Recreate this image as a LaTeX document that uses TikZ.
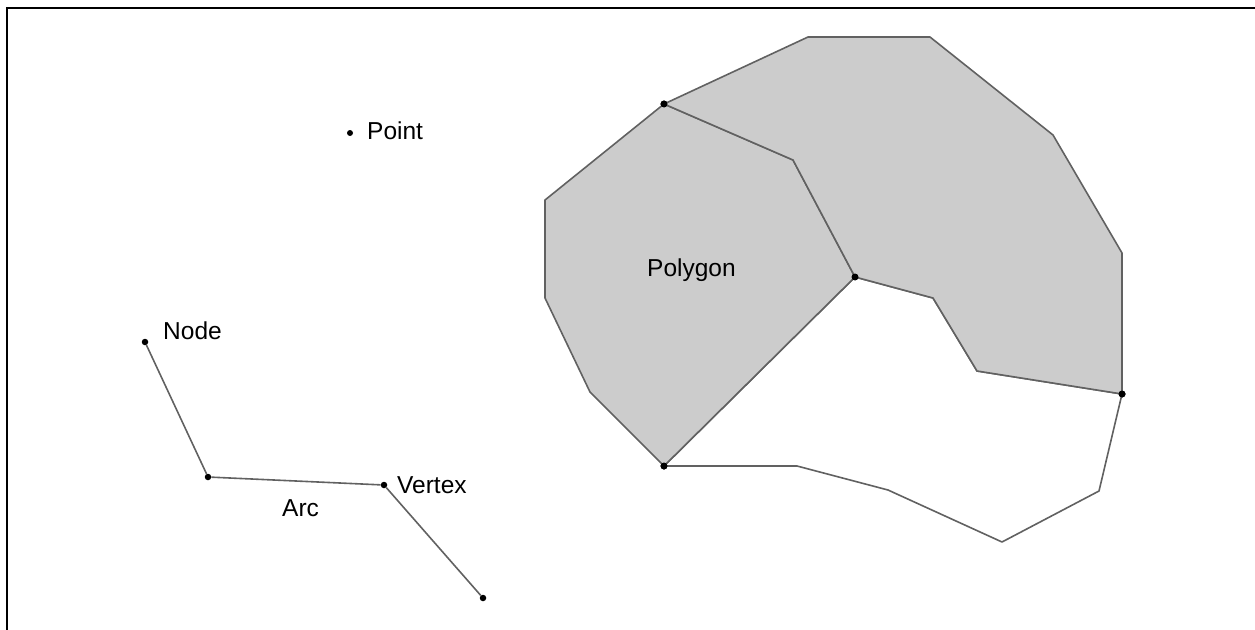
\documentclass[tikz,border=0pt]{standalone}
\usepackage{fontspec}
\setmainfont{Liberation Sans}
\begin{document}
\begin{tikzpicture}[x=1pt,y=-1pt,
  edge/.style={draw=black!62, line width=1.6pt, line join=round},
  region/.style={edge, fill=black!20},
  hole/.style={edge, fill=white},
  dot/.style={circle, fill=black, inner sep=0pt, minimum size=7pt},
  lbl/.style={anchor=base west, inner sep=0pt, font=\fontsize{24.5}{28}\selectfont},
  frame/.style={draw=black, line width=2.5pt}]
\useasboundingbox (0,0) rectangle (1255,629);
% frame (top and left edges only)
\coordinate (fTL) at (7,8);
\coordinate (fTR) at (1256,8);
\coordinate (fBL) at (7,630);
\draw[frame] (fTR) -- (fTL) -- (fBL);

% polygon vertices
\coordinate (a1) at (545,200);
\coordinate (a2) at (545,298);
\coordinate (a3) at (590,392);
\coordinate (m1) at (793,160);
\coordinate (b1) at (808,37);
\coordinate (b2) at (930,37);
\coordinate (b3) at (1053,135);
\coordinate (b4) at (1122,253);
\coordinate (b5) at (977,371);
\coordinate (b6) at (933,298);
\coordinate (c1) at (797,466);
\coordinate (c2) at (888,490);
\coordinate (c3) at (1002,542);
\coordinate (c4) at (1099,491);

% dots of the polygon
\node[dot] (p1) at (664,104) {};
\node[dot] (p2) at (855,277) {};
\node[dot] (p3) at (664,466) {};
\node[dot] (p4) at (1122,394) {};

% regions
\path[hole] (p3.center) -- (c1) -- (c2) -- (c3) -- (c4) -- (p4.center) -- (b5) -- (b6) -- (p2.center) -- cycle;
\path[region] (p1.center) -- (a1) -- (a2) -- (a3) -- (p3.center) -- (p2.center) -- (m1) -- cycle;
\path[region] (p1.center) -- (b1) -- (b2) -- (b3) -- (b4) -- (p4.center) -- (b5) -- (b6) -- (p2.center) -- (m1) -- cycle;
\node[dot] at (p1) {};
\node[dot] at (p2) {};
\node[dot] at (p3) {};
\node[dot] at (p4) {};
\node[lbl] (tpoly) at (647,276) {Polygon};

% point
\node[dot, minimum size=6pt] (pt) at (350,133) {};
\node[lbl] (tpt) at (367,139) {Point};

% line graph
\node[dot, minimum size=6.5pt] (n1) at (145,342) {};
\node[dot, minimum size=6.5pt] (n2) at (208,477) {};
\node[dot, minimum size=6.5pt] (n3) at (384,485) {};
\node[dot, minimum size=6.5pt] (n4) at (483,598) {};
\draw[edge] (n1) -- (n2) -- (n3) -- (n4);
\node[lbl] (tnode) at (163,339) {Node};
\node[lbl] (tvert) at (397,493) {Vertex};
\node[lbl] (tarc) at (282,516) {Arc};
\end{tikzpicture}
\end{document}
